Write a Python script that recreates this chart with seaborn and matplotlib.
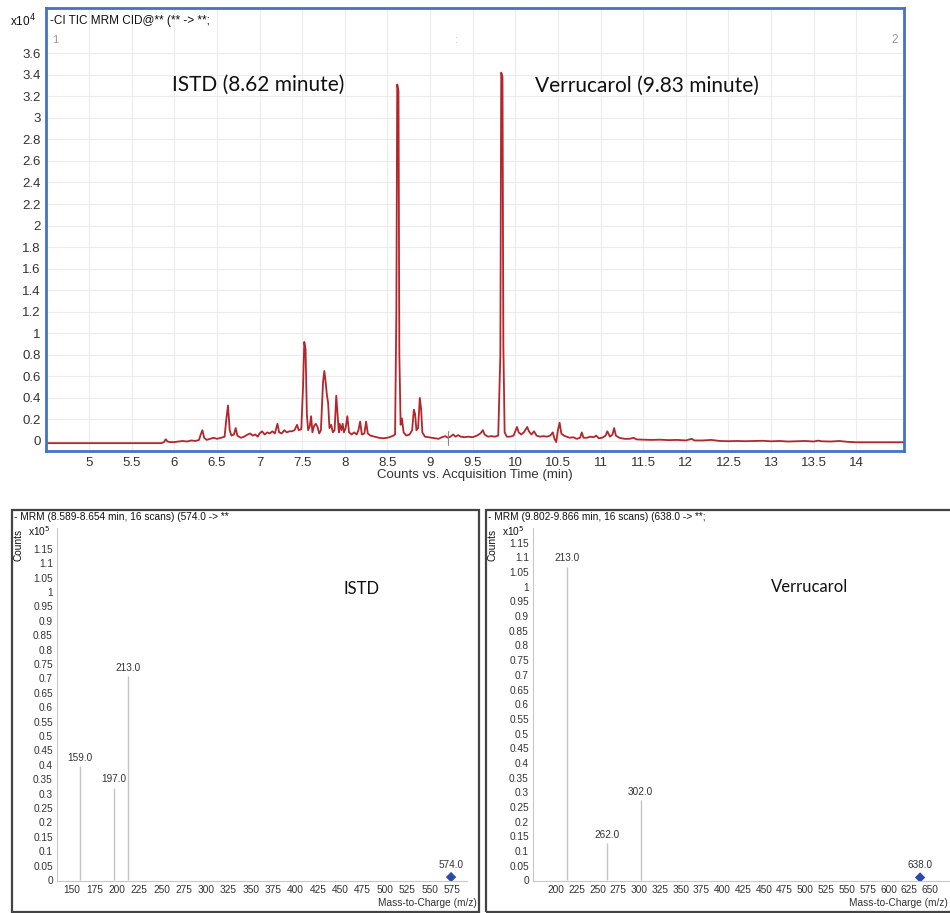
import numpy as np
import pandas as pd
import matplotlib
matplotlib.use("Agg")
import matplotlib.pyplot as plt
from matplotlib.patches import Rectangle
import seaborn as sns

# --- TIC chromatogram (counts in units of 1e4) ---
tic_time = [4.50, 5.85, 5.88, 5.90, 5.92, 5.95, 6.00, 6.05, 6.10, 6.15, 6.20, 6.25, 6.29, 6.31, 6.33,
            6.35, 6.38, 6.42, 6.46, 6.50, 6.55, 6.59, 6.61, 6.63, 6.65, 6.67, 6.70, 6.72, 6.74, 6.78,
            6.82, 6.86, 6.89, 6.92, 6.95, 6.98, 7.00, 7.03, 7.06, 7.09, 7.12, 7.15, 7.18, 7.21, 7.23,
            7.26, 7.29, 7.32, 7.35, 7.38, 7.41, 7.44, 7.46, 7.49, 7.51, 7.525, 7.54, 7.555, 7.57, 7.59,
            7.605, 7.62, 7.64, 7.66, 7.68, 7.70, 7.72, 7.745, 7.76, 7.775, 7.79, 7.805, 7.82, 7.84, 7.86,
            7.88, 7.90, 7.915, 7.93, 7.94, 7.96, 7.975, 7.99, 8.01, 8.03, 8.05, 8.08, 8.11, 8.14, 8.16,
            8.18, 8.20, 8.23, 8.25, 8.27, 8.30, 8.35, 8.40, 8.45, 8.50, 8.54, 8.57, 8.59, 8.605, 8.615,
            8.63, 8.64, 8.655, 8.67, 8.69, 8.72, 8.76, 8.79, 8.81, 8.825, 8.84, 8.86, 8.88, 8.895, 8.91,
            8.94, 8.98, 9.02, 9.06, 9.10, 9.14, 9.18, 9.21, 9.24, 9.27, 9.30, 9.33, 9.36, 9.40, 9.45,
            9.50, 9.55, 9.59, 9.62, 9.64, 9.68, 9.72, 9.76, 9.80, 9.825, 9.835, 9.85, 9.86, 9.875, 9.90,
            9.94, 9.98, 10.02, 10.04, 10.07, 10.10, 10.14, 10.16, 10.19, 10.22, 10.25, 10.29, 10.33, 10.37,
            10.41, 10.44, 10.46, 10.48, 10.50, 10.52, 10.54, 10.57, 10.60, 10.64, 10.68, 10.72, 10.76,
            10.78, 10.80, 10.84, 10.88, 10.92, 10.95, 10.98, 11.02, 11.06, 11.08, 11.11, 11.14, 11.16,
            11.18, 11.22, 11.28, 11.34, 11.39, 11.42, 11.50, 11.60, 11.70, 11.80, 11.90, 12.00, 12.07,
            12.10, 12.20, 12.30, 12.40, 12.50, 12.60, 12.70, 12.80, 12.90, 13.00, 13.10, 13.20, 13.30,
            13.40, 13.50, 13.55, 13.60, 13.70, 13.80, 13.90, 14.00, 14.60]
tic_counts = [-0.02, -0.02, -0.01, 0.016, -0.005, -0.01, -0.01, -0.005, 0.0, -0.005, 0.005, 0.0, 0.01, 0.06, 0.10,
              0.03, 0.01, 0.02, 0.03, 0.02, 0.03, 0.04, 0.20, 0.33, 0.10, 0.05, 0.06, 0.12, 0.05, 0.03,
              0.04, 0.06, 0.07, 0.05, 0.06, 0.04, 0.07, 0.09, 0.06, 0.08, 0.07, 0.09, 0.07, 0.16, 0.08,
              0.07, 0.10, 0.08, 0.09, 0.09, 0.10, 0.15, 0.10, 0.11, 0.50, 0.92, 0.85, 0.25, 0.10, 0.14,
              0.23, 0.08, 0.14, 0.16, 0.13, 0.07, 0.10, 0.55, 0.65, 0.55, 0.43, 0.35, 0.12, 0.15, 0.08,
              0.10, 0.42, 0.25, 0.08, 0.16, 0.10, 0.16, 0.08, 0.12, 0.23, 0.08, 0.06, 0.08, 0.06, 0.10,
              0.18, 0.06, 0.07, 0.18, 0.07, 0.05, 0.04, 0.03, 0.025, 0.03, 0.04, 0.05, 0.06, 1.20, 3.31,
              3.25, 0.80, 0.15, 0.21, 0.08, 0.05, 0.06, 0.10, 0.29, 0.25, 0.10, 0.12, 0.40, 0.30, 0.08,
              0.04, 0.035, 0.03, 0.025, 0.02, 0.035, 0.045, 0.03, 0.04, 0.06, 0.04, 0.055, 0.04, 0.035, 0.04,
              0.035, 0.05, 0.07, 0.10, 0.06, 0.04, 0.045, 0.04, 0.05, 0.80, 3.42, 3.38, 0.90, 0.08, 0.04,
              0.04, 0.05, 0.13, 0.08, 0.06, 0.08, 0.13, 0.09, 0.06, 0.09, 0.05, 0.04, 0.045, 0.04,
              0.05, 0.08, 0.02, -0.01, 0.10, 0.17, 0.07, 0.05, 0.04, 0.03, 0.035, 0.02, 0.03,
              0.08, 0.03, 0.03, 0.04, 0.035, 0.05, 0.025, 0.03, 0.05, 0.09, 0.04, 0.06, 0.12,
              0.05, 0.03, 0.02, 0.02, 0.03, 0.015, 0.012, 0.01, 0.012, 0.008, 0.01, 0.005, 0.02,
              0.005, 0.005, 0.01, 0.0, -0.002, 0.0, -0.002, 0.0, 0.002, -0.003, 0.0, -0.005, -0.003,
              0.0, -0.005, 0.003, -0.003, -0.005, 0.0, -0.008, -0.012, -0.012]
time_ticks = [5, 5.5, 6, 6.5, 7, 7.5, 8, 8.5, 9, 9.5, 10, 10.5, 11, 11.5, 12, 12.5, 13, 13.5, 14]
tic_yticks = [0, 0.2, 0.4, 0.6, 0.8, 1, 1.2, 1.4, 1.6, 1.8, 2, 2.2, 2.4, 2.6, 2.8, 3, 3.2, 3.4, 3.6]
marker_time = 9.21

# --- MRM product-ion spectra (counts in units of 1e5) ---
istd_mz = [159.0, 197.0, 213.0]
istd_counts = [0.395, 0.32, 0.708]
istd_precursor = 574.0
istd_ticks = [150, 175, 200, 225, 250, 275, 300, 325, 350, 375, 400, 425, 450, 475, 500, 525, 550, 575]

verr_mz = [213.0, 262.0, 302.0]
verr_counts = [1.068, 0.126, 0.273]
verr_precursor = 638.0
verr_ticks = [200, 225, 250, 275, 300, 325, 350, 375, 400, 425, 450, 475, 500, 525, 550, 575, 600, 625, 650]

spec_yticks = [0, 0.05, 0.1, 0.15, 0.2, 0.25, 0.3, 0.35, 0.4, 0.45, 0.5, 0.55, 0.6, 0.65, 0.7,
               0.75, 0.8, 0.85, 0.9, 0.95, 1, 1.05, 1.1, 1.15]

sns.set_theme(style="white")
plt.rcParams['font.family'] = ['Liberation Sans', 'DejaVu Sans']

RED = "#b3262b"
BLUE = "#4472c4"
GRAY_TXT = "#333333"


def fmt(v):
    return f"{v:g}"


fig = plt.figure(figsize=(9.5, 9.13), dpi=100)

# ---------------- top chromatogram ----------------
ax = fig.add_axes([46 / 950, 1 - 451 / 913, 858 / 950, 443 / 913])
tic = pd.DataFrame({"time": tic_time, "counts": tic_counts})
sns.lineplot(data=tic, x="time", y="counts", ax=ax, color=RED, lw=1.3,
             estimator=None, sort=False)
ax.set_xlim(4.495, 14.56)
ax.set_ylim(-0.093, 4.02)
ax.set_xticks(time_ticks)
ax.set_xticklabels([fmt(t) for t in time_ticks])
ax.set_yticks(tic_yticks)
ax.set_yticklabels([fmt(t) for t in tic_yticks])
ax.grid(True, color="#ececec", lw=0.8)
ax.tick_params(axis="both", labelsize=9.5, colors=GRAY_TXT, length=2.5, width=0.6, pad=1.5)
ax.tick_params(axis="both", color="#aaaaaa")
for s in ax.spines.values():
    s.set_color(BLUE)
    s.set_linewidth(2.0)
ax.set_xlabel("Counts vs. Acquisition Time (min)", fontsize=9.5, color=GRAY_TXT, labelpad=0)
ax.set_ylabel("")
ax.axvline(marker_time, ymin=0.013, ymax=0.045, color="#888888", lw=0.8)

ax.text(0.005, 0.971, "-CI TIC MRM CID@** (** -> **;", transform=ax.transAxes,
        fontsize=8.5, color="#111111", va="center", ha="left")
ax.text(0.007, 0.928, "1", transform=ax.transAxes, fontsize=8, color="#999999", va="center")
ax.text(0.477, 0.928, ":", transform=ax.transAxes, fontsize=8, color="#bbbbbb", va="center")
ax.text(0.993, 0.928, "2", transform=ax.transAxes, fontsize=8.5, color="#999999",
        va="center", ha="right")
fig.text(10 / 950, 1 - 21 / 913, "x10$^{4}$", fontsize=8.5, color="#111111", va="center")

ax.text(6.98, 3.31, "ISTD (8.62 minute)", fontsize=15, family="Lato", ha="center", va="center",
        color="#111111")
ax.text(11.54, 3.30, "Verrucarol (9.83 minute)", fontsize=15, family="Lato", ha="center",
        va="center", color="#111111")


# ---------------- bottom spectra ----------------
def spectrum(ax, mz, counts, precursor, xticks, xlim, ylim, label, label_xy):
    ax.vlines(mz, 0, counts, color="#c4c4c4", lw=1.0)
    for m, c in zip(mz, counts):
        ax.text(m, c + 0.012, f"{m:.1f}", fontsize=7.2, ha="center", va="bottom", color=GRAY_TXT)
    sns.scatterplot(x=[precursor], y=[0.01], marker="D", s=28, color="#2b4aa8",
                    edgecolor="none", ax=ax, zorder=3)
    ax.text(precursor, 0.035, f"{precursor:.1f}", fontsize=7.2, ha="center", va="bottom",
            color=GRAY_TXT)
    ax.set_xlim(*xlim)
    ax.set_ylim(*ylim)
    ax.set_xticks(xticks)
    ax.set_xticklabels([str(t) for t in xticks])
    ax.set_yticks(spec_yticks)
    ax.set_yticklabels([fmt(t) for t in spec_yticks])
    ax.tick_params(axis="both", labelsize=7.3, colors=GRAY_TXT, length=2, width=0.6, pad=1)
    ax.tick_params(axis="both", color="#bbbbbb")
    for side in ["top", "right"]:
        ax.spines[side].set_visible(False)
    for side in ["left", "bottom"]:
        ax.spines[side].set_color("#c8c8c8")
        ax.spines[side].set_linewidth(0.8)
    ax.set_xlabel("")
    ax.set_ylabel("")
    ax.text(label_xy[0], label_xy[1], label, fontsize=12, family="Lato", ha="center",
            va="center", color="#111111")


ax1 = fig.add_axes([57 / 950, 1 - 881 / 913, 410 / 950, 353 / 913])
spectrum(ax1, istd_mz, istd_counts, istd_precursor, istd_ticks, (133.2, 591.8),
         (-0.0035, 1.222), "ISTD", (474, 1.01))

ax2 = fig.add_axes([533 / 950, 1 - 881 / 913, 417 / 950, 353 / 913])
spectrum(ax2, verr_mz, verr_counts, verr_precursor, verr_ticks, (172.4, 674),
         (-0.002, 1.2), "Verrucarol", (505, 1.0))

# panel frames and labels
for x0, w, head in [(12, 467, "- MRM (8.589-8.654 min, 16 scans) (574.0 -> **"),
                    (486, 480, "- MRM (9.802-9.866 min, 16 scans) (638.0 -> **;")]:
    fig.add_artist(Rectangle((x0 / 950, 1 / 913), w / 950, 402 / 913, transform=fig.transFigure,
                             fill=False, edgecolor="#444444", lw=1.6))
    fig.text((x0 + 2) / 950, 1 - 517 / 913, head, fontsize=7.3, color="#111111",
             va="center", ha="left")
    fig.text((x0 + 6) / 950, 1 - 545 / 913, "Counts", fontsize=7.3, color="#111111",
             rotation=90, va="center", ha="center")
    fig.text((x0 + 16) / 950, 1 - 531 / 913, "x10$^{5}$", fontsize=7.3, color="#111111",
             va="center", ha="left")

fig.text(477 / 950, 1 - 903 / 913, "Mass-to-Charge (m/z)", fontsize=7.3, color=GRAY_TXT,
         ha="right", va="center")
fig.text(948 / 950, 1 - 903 / 913, "Mass-to-Charge (m/z)", fontsize=7.3, color=GRAY_TXT,
         ha="right", va="center")

fig.savefig("out.png", dpi=100)
